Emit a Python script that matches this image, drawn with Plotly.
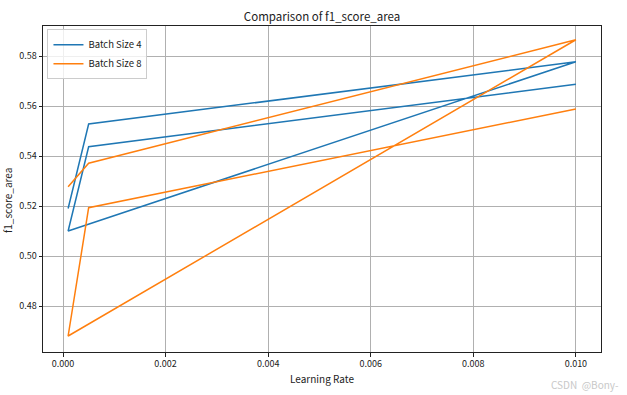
import plotly.graph_objects as go

learning_rates = [0.0001, 0.0005, 0.01, 0.0001, 0.0005, 0.01]
bs4_scores = [0.519, 0.5528, 0.5777, 0.510, 0.5437, 0.5687]
bs8_scores = [0.5277, 0.5371, 0.5865, 0.468, 0.5193, 0.5588]
series_names = ["Batch Size 4", "Batch Size 8"]
x_ticks = [0.0, 0.002, 0.004, 0.006, 0.008, 0.010]
y_ticks = [0.48, 0.50, 0.52, 0.54, 0.56, 0.58]

FONT = "Noto Sans CJK SC, Noto Sans, DejaVu Sans, sans-serif"

fig = go.Figure()
fig.add_trace(go.Scatter(x=learning_rates, y=bs4_scores, mode="lines", name=series_names[0],
                         line=dict(color="#1f77b4", width=1.5)))
fig.add_trace(go.Scatter(x=learning_rates, y=bs8_scores, mode="lines", name=series_names[1],
                         line=dict(color="#ff7f0e", width=1.5)))

axis_common = dict(showline=True, linecolor="#222", linewidth=1, mirror=True,
                   showgrid=True, gridcolor="#b0b0b0", gridwidth=0.8,
                   ticks="outside", ticklen=3.5, tickcolor="#222", zeroline=False,
                   automargin=False,
                   tickfont=dict(size=9, color="#222", family=FONT))

fig.update_xaxes(range=[-0.00039, 0.01049], tickvals=x_ticks, tickformat=".3f",
                 title=dict(text="Learning Rate", font=dict(size=10, color="#222", family=FONT), standoff=6),
                 **axis_common)
fig.update_yaxes(range=[0.4616, 0.592], tickvals=y_ticks, tickformat=".2f",
                 **axis_common)

W, H = 627, 395
fig.update_layout(
    width=W, height=H,
    margin=dict(l=43, r=26, t=26, b=43, autoexpand=False),
    paper_bgcolor="white", plot_bgcolor="white",
    font=dict(family=FONT, color="#222"),
    title=dict(text="Comparison of f1_score_area", x=0.5, xanchor="center",
               y=1 - 16.5 / H, yanchor="middle",
               xref="paper", font=dict(size=11.5, color="#222", family=FONT)),
    showlegend=True,
    legend=dict(x=0.008, y=0.99, xanchor="left", yanchor="top",
                bgcolor="rgba(255,255,255,0.8)", bordercolor="#cccccc", borderwidth=1,
                font=dict(size=9.5, color="#222", family=FONT), itemwidth=30,
                tracegroupgap=0),
    annotations=[
        dict(text="f1_score_area", x=0.0, y=0.5, xref="paper", yref="paper",
             xanchor="center", yanchor="middle", xshift=-36, yshift=-12, textangle=-90,
             showarrow=False, font=dict(size=10, color="#222", family=FONT)),
        dict(text="CSDN\u00a0\u00a0@Bony-", x=1.0, y=0.0, xref="paper", yref="paper",
             xanchor="right", yanchor="middle", xshift=20, yshift=-32, showarrow=False,
             font=dict(size=10, color="#c8c8c8", family=FONT)),
    ],
)

fig.write_html("out.html", config={"displayModeBar": False},
               post_script="document.body.style.margin='0';")
